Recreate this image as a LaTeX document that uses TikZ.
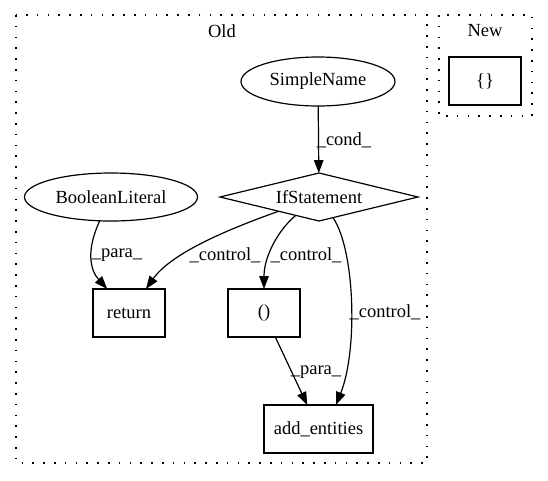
\documentclass[tikz,border=0pt]{standalone}
\usepackage{fontspec}
\setmainfont{Liberation Serif}
\usetikzlibrary{arrows.meta,shapes.geometric}
\begin{document}
\begin{tikzpicture}[x=1pt,y=-1pt,
  font=\fontsize{18.5}{22}\selectfont,
  every node/.style={inner sep=0pt,outer sep=0pt},
  cluster/.style={draw,line width=1.3pt,dash pattern=on 1.6pt off 9.2pt,line cap=butt},
  ell/.style={draw,line width=1.2pt,ellipse},
  boxnode/.style={draw,line width=1.2pt,rectangle,minimum height=48pt},
  dia/.style={draw,line width=1.2pt,diamond,aspect=4.1,minimum width=198pt,minimum height=48pt},
  edge/.style={draw,line width=1.2pt,-{Triangle[length=13pt,width=9.5pt]}},
  lbl/.style={inner sep=0pt}
]
\useasboundingbox (0,0) rectangle (548,480);
% clusters
\draw[cluster] (16,15) rectangle (427,463);
\draw[cluster] (439,15) rectangle (532,116);
\node (oldlbl) at (222,31) {Old};
\node (newlbl) at (485,31) {New};
% nodes
\node[ell,minimum width=154pt,minimum height=49pt] (sn) at (318,81.5) {SimpleName};
\node[dia] (ifs) at (319,197) {IfStatement};
\node[ell,minimum width=173pt,minimum height=48pt] (bl) at (111,197) {BooleanLiteral};
\node[boxnode,minimum width=72pt] (ret) at (129,313) {return};
\node[boxnode,minimum width=72pt] (par) at (264,313) {()};
\node[boxnode,minimum width=109pt] (add) at (318.5,429) {add\_entities};
\node[boxnode,minimum width=72pt] (newb) at (485,81) {\{\}};
% edges
\draw[edge] (sn) -- (ifs);
\node[lbl] (l1) at (344,140) {\_cond\_};
\draw[edge] (bl) .. controls (86,250) and (90,270) .. (ret);
\node[lbl] (l2) at (117,255) {\_para\_};
\draw[edge] (ifs) .. controls (220,232) and (170,255) .. (ret);
\node[lbl] (l3) at (225,255) {\_control\_};
\draw[edge] (ifs) .. controls (280,228) and (264,255) .. (par);
\node[lbl] (l4) at (306,255) {\_control\_};
\draw[edge] (ifs) .. controls (355,250) and (358,350) .. (add.54);
\node[lbl] (l5) at (385,312) {\_control\_};
\draw[edge] (par) -- (add);
\node[lbl] (l6) at (316,372) {\_para\_};
\end{tikzpicture}
\end{document}
